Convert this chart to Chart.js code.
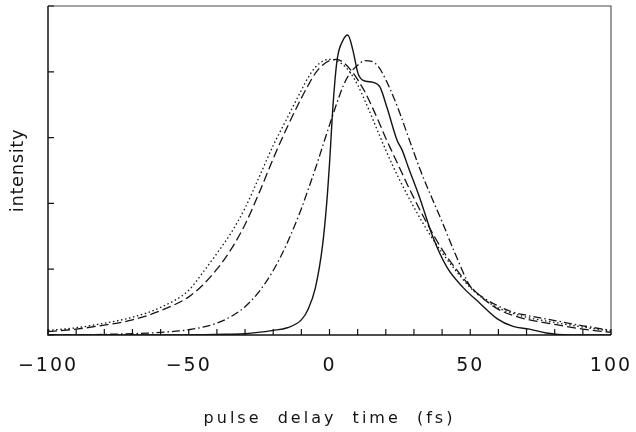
<!DOCTYPE html>
<html>
<head>
<meta charset="utf-8">
<script src="https://cdn.jsdelivr.net/npm/chart.js@4.4.1/dist/chart.umd.min.js"></script>
<style>
  html, body { margin: 0; padding: 0; background: #fff; }
  #wrap { width: 636px; height: 432px; }
</style>
</head>
<body>
<div id="wrap"><canvas id="c" width="636" height="432"></canvas></div>
<script>
// x values (pulse delay time, fs) shared by the three smooth curves
const delays = [-100,-90,-80,-70,-60,-50,-45,-40,-35,-30,-25,-20,-15,-10,-7.5,-5,-2.5,0,2.5,5,7.5,10,12.5,15,17.5,20,22.5,25,27.5,30,32.5,35,40,45,50,55,60,65,70,80,90,100];
// dotted curve
const dottedIntensity = [0.07,0.11,0.18,0.27,0.42,0.68,0.95,1.24,1.55,1.93,2.40,2.88,3.30,3.72,3.92,4.07,4.16,4.19,4.17,4.10,3.98,3.80,3.57,3.32,3.06,2.81,2.57,2.35,2.14,1.94,1.75,1.57,1.25,0.97,0.72,0.54,0.41,0.33,0.27,0.19,0.12,0.06];
// long-dashed curve
const dashedIntensity = [0.05,0.09,0.15,0.23,0.37,0.58,0.76,1.00,1.30,1.68,2.16,2.68,3.16,3.60,3.80,3.98,4.10,4.17,4.19,4.14,4.03,3.88,3.70,3.48,3.24,2.99,2.76,2.53,2.30,2.08,1.87,1.67,1.30,1.00,0.74,0.54,0.39,0.30,0.24,0.16,0.09,0.04];
// dash-dot curve
const dashDotIntensity = [0.00,0.00,0.01,0.02,0.04,0.08,0.12,0.18,0.28,0.43,0.66,0.98,1.40,1.92,2.22,2.53,2.86,3.19,3.51,3.80,3.99,4.10,4.17,4.16,4.07,3.88,3.64,3.37,3.07,2.77,2.48,2.22,1.72,1.20,0.74,0.56,0.44,0.35,0.30,0.22,0.14,0.07];
// solid curve (sharper peak, its own sampling)
const solidDelays = [-100,-60,-40,-30,-20,-15,-10,-7.5,-5,-2.5,-1,0,1.2,2.7,4.8,6.5,8.3,10.1,11.9,15.5,17.9,20.4,24,25.8,28,32,36.8,41.7,47.5,53.5,59.5,65.2,71,77,85,100];
const solidIntensity = [0,0,0.01,0.02,0.07,0.11,0.23,0.40,0.72,1.35,2.0,2.6,3.46,4.18,4.48,4.56,4.33,3.98,3.87,3.84,3.77,3.46,2.96,2.81,2.55,2.09,1.48,1.03,0.72,0.48,0.25,0.13,0.09,0.03,0,0];
// axis ticks
const xTickStep = 10;
const xLabelEvery = 50;
const yTickStep = 1;

const pts = (xs, ys) => xs.map((v, i) => ({ x: v, y: ys[i] }));
const ink = '#141414';

// per-text letter spacing (the original uses a wide plotter lettering)
function spacingFor(t) {
  if (t === 'intensity') return '0.6px';
  if (/^pulse/.test(t)) return '3px';
  return '2px';
}

const framePlugin = {
  id: 'frame',
  beforeInit(chart) {
    const ctx = chart.ctx;
    const orig = ctx.fillText;
    ctx.fillText = function (t, x, y, m) {
      const prev = ctx.letterSpacing;
      ctx.letterSpacing = spacingFor(String(t));
      if (m === undefined) orig.call(ctx, t, x, y); else orig.call(ctx, t, x, y, m);
      ctx.letterSpacing = prev;
    };
  },
  afterDraw(chart) {
    const { ctx, chartArea: a, scales: { x, y } } = chart;
    ctx.save();
    ctx.setLineDash([]);
    // top and right frame (lighter)
    ctx.strokeStyle = '#4a4a4a';
    ctx.lineWidth = 1.1;
    ctx.beginPath();
    ctx.moveTo(a.left, a.top); ctx.lineTo(a.right, a.top); ctx.lineTo(a.right, a.bottom);
    ctx.stroke();
    // left and bottom axes
    ctx.strokeStyle = ink;
    ctx.lineWidth = 1.5;
    ctx.beginPath();
    ctx.moveTo(a.left, a.top); ctx.lineTo(a.left, a.bottom); ctx.lineTo(a.right, a.bottom);
    ctx.stroke();
    // inward ticks
    ctx.lineWidth = 1.2;
    ctx.beginPath();
    x.ticks.forEach(t => {
      const px = x.getPixelForValue(t.value);
      ctx.moveTo(px, a.bottom);
      ctx.lineTo(px, a.bottom - 6);
    });
    y.ticks.forEach(t => {
      const py = y.getPixelForValue(t.value);
      ctx.moveTo(a.left, py);
      ctx.lineTo(a.left + 6, py);
    });
    ctx.stroke();
    ctx.restore();
  }
};

const common = { showLine: true, pointRadius: 0, fill: false, borderColor: ink, cubicInterpolationMode: 'monotone' };

new Chart(document.getElementById('c'), {
  type: 'scatter',
  data: {
    datasets: [
      { ...common, label: 'dotted', data: pts(delays, dottedIntensity), borderWidth: 1.3, borderDash: [1.5, 2.6] },
      { ...common, label: 'dashed', data: pts(delays, dashedIntensity), borderWidth: 1.3, borderDash: [9, 4] },
      { ...common, label: 'dash-dot', data: pts(delays, dashDotIntensity), borderWidth: 1.3, borderDash: [8, 3, 1.5, 3] },
      { ...common, label: 'solid', data: pts(solidDelays, solidIntensity), borderWidth: 1.4 }
    ]
  },
  options: {
    responsive: false,
    animation: false,
    events: [],
    layout: { padding: { top: 6, right: 25, left: 0, bottom: 0 } },
    plugins: { legend: { display: false }, tooltip: { enabled: false } },
    scales: {
      x: {
        type: 'linear', min: -100, max: 100,
        grid: { display: false, drawTicks: false },
        border: { display: false },
        ticks: {
          stepSize: xTickStep, autoSkip: false, maxRotation: 0, padding: 20,
          color: ink, font: { family: 'DejaVu Sans', size: 19 },
          callback: v => (v % xLabelEvery === 0) ? (v < 0 ? '\u2212' + Math.abs(v) : String(v)) : ''
        },
        title: {
          display: true, text: 'pulse  delay  time  (fs)', color: ink,
          font: { family: 'DejaVu Sans', size: 16 }, padding: { top: 0, bottom: 4 }
        },
        afterFit: s => { s.height = 97; s.paddingLeft = 0; s.paddingRight = 0; }
      },
      y: {
        type: 'linear', min: 0, max: 5,
        grid: { display: false, drawTicks: false },
        border: { display: false },
        ticks: { stepSize: yTickStep, display: false },
        title: {
          display: true, text: 'intensity', color: ink,
          font: { family: 'DejaVu Sans', size: 18 }, padding: { top: 8, bottom: 0 }
        },
        afterFit: s => { s.width = 48; s.paddingTop = 0; s.paddingBottom = 0; }
      }
    }
  },
  plugins: [framePlugin]
});
</script>
</body>
</html>
